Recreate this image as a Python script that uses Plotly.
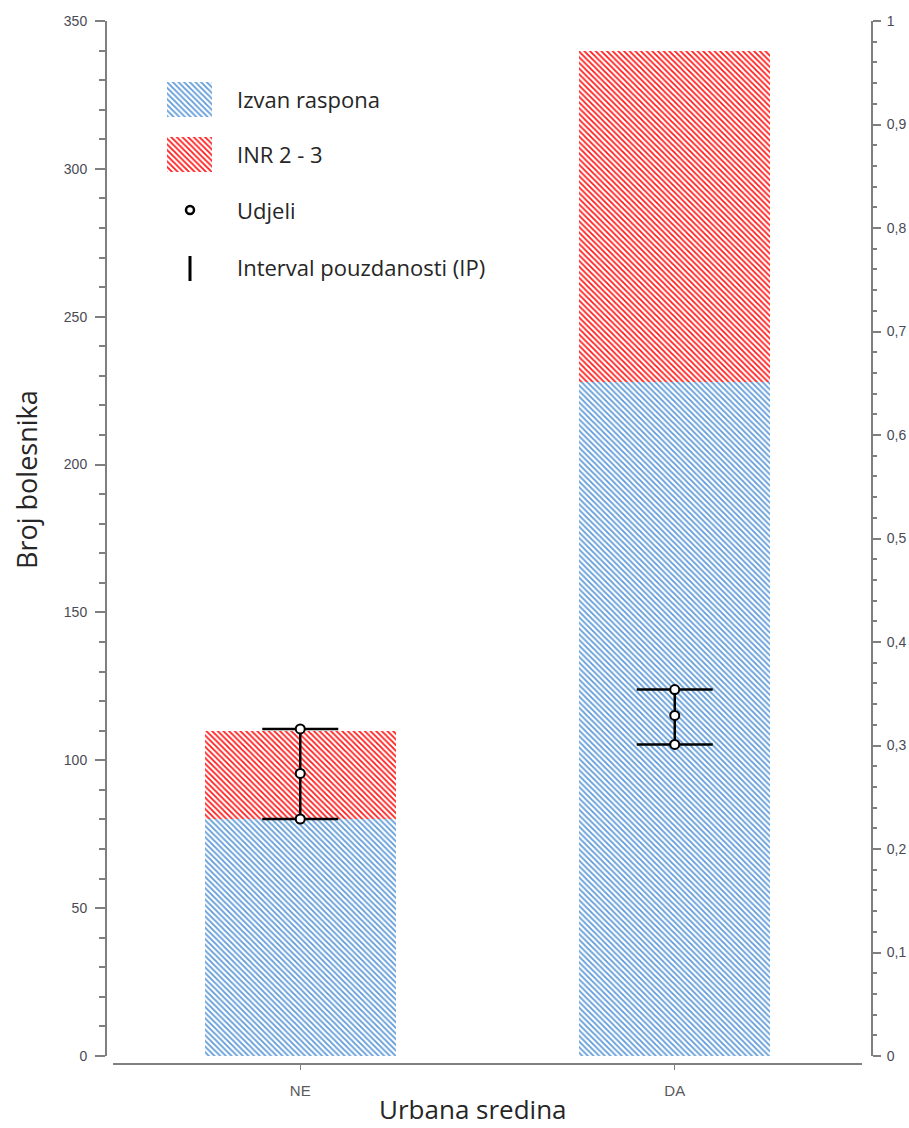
import plotly.graph_objects as go

categories = ["NE", "DA"]
izvan_raspona = [80, 228]
inr_2_3 = [30, 112]
udjeli = [0.273, 0.329]
ip_donja = [0.229, 0.301]
ip_gornja = [0.316, 0.354]

BLUE = "#5f9bd8"
RED = "#ff1a1a"
AXIS = "#7f7f7f"
TICKFONT = dict(family="Liberation Sans, Arial", size=14, color="#4a4a55")
TEXTFONT = "Open Sans"

W, H = 909, 1128
PL, PR, PT, PB = 106, 872, 21, 1064  # plot area in page pixels
PW, PH = PR - PL, PB - PT

def px_x(x):
    return (x - PL) / PW

def px_y(y):
    return (PB - y) / PH

fig = go.Figure()

pat = dict(shape="\\", bgcolor="white", size=4, solidity=0.45, fillmode="replace")

fig.add_trace(go.Bar(
    x=categories, y=izvan_raspona, name="Izvan raspona", width=0.51,
    marker=dict(color="white", line=dict(width=0), pattern=dict(pat, fgcolor=BLUE)),
    xaxis="x", yaxis="y", showlegend=False))
fig.add_trace(go.Bar(
    x=categories, y=inr_2_3, name="INR 2 - 3", width=0.51,
    marker=dict(color="white", line=dict(width=0), pattern=dict(pat, fgcolor=RED)),
    xaxis="x", yaxis="y", showlegend=False))

err_plus = [g - u for g, u in zip(ip_gornja, udjeli)]
err_minus = [u - d for u, d in zip(udjeli, ip_donja)]
fig.add_trace(go.Scatter(
    x=categories, y=udjeli, mode="markers", xaxis="x", yaxis="y2", showlegend=False,
    marker=dict(symbol="circle", size=9, color="white", line=dict(color="black", width=2)),
    error_y=dict(type="data", symmetric=False, array=err_plus, arrayminus=err_minus,
                 color="black", thickness=2.5, width=38)))
fig.add_trace(go.Scatter(
    x=categories + categories, y=ip_donja + ip_gornja, mode="markers", xaxis="x", yaxis="y2",
    showlegend=False,
    marker=dict(symbol="circle", size=9, color="white", line=dict(color="black", width=2))))

# custom legend (pixel-coordinate overlay axes)
def swatch(x0, x1, y0, y1, col):
    fig.add_trace(go.Scatter(
        x=[x0, x1, x1, x0, x0], y=[y0, y0, y1, y1, y0], mode="lines", fill="toself",
        line=dict(width=0), fillcolor="white",
        fillpattern=dict(pat, fgcolor=col),
        xaxis="x3", yaxis="y3", showlegend=False, hoverinfo="skip"))

swatch(167, 212, 82, 117, BLUE)
swatch(167, 212, 137, 172, RED)
fig.add_trace(go.Scatter(x=[190], y=[210], mode="markers", xaxis="x3", yaxis="y3", showlegend=False,
                         marker=dict(symbol="circle", size=8, color="white", line=dict(color="black", width=2.5))))
fig.add_trace(go.Scatter(x=[190, 190], y=[256, 281], mode="lines", xaxis="x3", yaxis="y3", showlegend=False,
                         line=dict(color="black", width=3)))

legend_labels = ["Izvan raspona", "INR 2 - 3", "Udjeli", "Interval pouzdanosti (IP)"]
legend_y = [99, 154, 210, 267]
annotations = []
for lab, ly in zip(legend_labels, legend_y):
    annotations.append(dict(x=235, y=ly, xref="x3", yref="y3", text=lab, showarrow=False,
                            xanchor="left", yanchor="middle",
                            font=dict(family=TEXTFONT, size=22, color="#262626")))

annotations.append(dict(x=px_x(473), y=px_y(1109), xref="paper", yref="paper", text="Urbana sredina",
                        showarrow=False, xanchor="center", yanchor="middle",
                        font=dict(family=TEXTFONT, size=26, color="#262626")))
annotations.append(dict(x=px_x(26), y=px_y(480), xref="paper", yref="paper", text="Broj bolesnika",
                        showarrow=False, xanchor="center", yanchor="middle", textangle=-90,
                        font=dict(family=TEXTFONT, size=27, color="#262626")))

fig.update_layout(
    width=W, height=H,
    margin=dict(l=PL, r=W - PR, t=PT, b=H - PB, pad=0, autoexpand=False),
    plot_bgcolor="rgba(0,0,0,0)", paper_bgcolor="white",
    barmode="stack", separators=", ",
    showlegend=False,
    annotations=annotations,
    xaxis=dict(domain=[px_x(113), px_x(862)], anchor="free", position=0, type="category", range=[-0.5, 1.5],
               showline=True, linecolor=AXIS, linewidth=2, ticks="outside", ticklen=5, tickcolor=AXIS,
               tickwidth=1, showgrid=False, zeroline=False, ticklabelstandoff=8, automargin=False,
               tickfont=dict(family="Liberation Sans, Arial", size=15, color="#595959")),
    yaxis=dict(domain=[px_y(1056), 1], anchor="free", position=0, range=[0, 350], dtick=50,
               showline=True, linecolor=AXIS, linewidth=2, ticks="outside", ticklen=10, tickwidth=2,
               tickcolor=AXIS, showgrid=False, zeroline=False, tickfont=TICKFONT, automargin=False,
               ticklabelstandoff=5,
               minor=dict(dtick=10, ticks="outside", ticklen=6, tickwidth=2, tickcolor=AXIS)),
    yaxis2=dict(domain=[px_y(1056), 1], overlaying="y", side="right", anchor="free", position=1,
                range=[0, 1], dtick=0.1, automargin=False,
                showline=True, linecolor=AXIS, linewidth=2, ticks="outside", ticklen=8, tickwidth=2,
                tickcolor=AXIS, showgrid=False, zeroline=False, tickfont=TICKFONT,
                ticklabelstandoff=3,
                minor=dict(dtick=0.02, ticks="outside", ticklen=4, tickwidth=2, tickcolor=AXIS)),
    xaxis3=dict(domain=[0, 1], range=[PL, PR], visible=False, anchor="y3", fixedrange=True, automargin=False),
    yaxis3=dict(domain=[0, 1], range=[PB, PT], visible=False, anchor="x3", fixedrange=True, automargin=False),
)

post = ("document.body.style.margin='0';document.body.style.overflow='hidden';"
        "document.documentElement.style.overflow='hidden';")
fig.write_html("out.html", post_script=post, config={"displayModeBar": False})
